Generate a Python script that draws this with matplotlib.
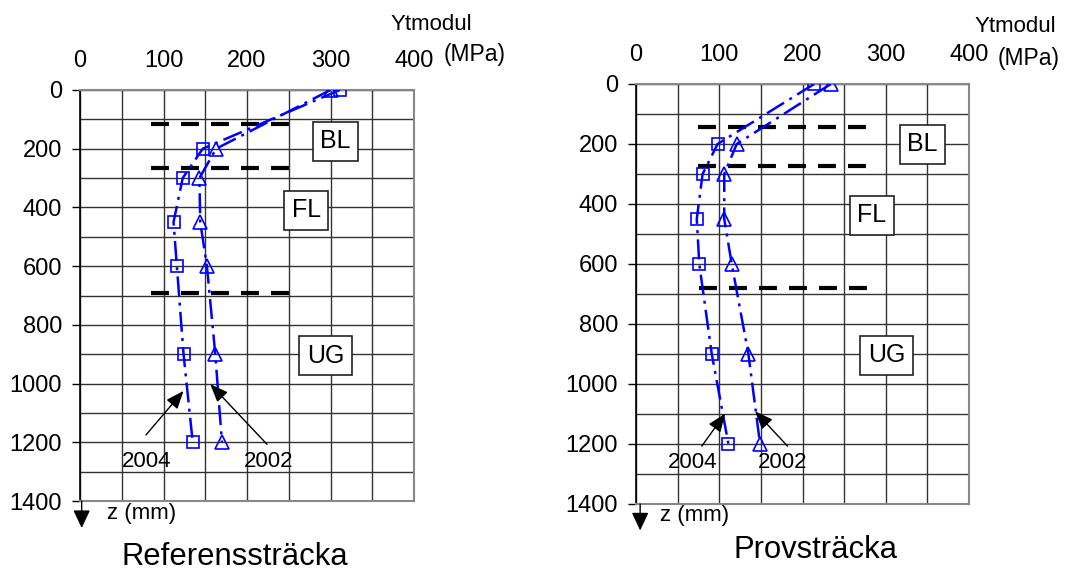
import numpy as np
import matplotlib
matplotlib.use("Agg")
from matplotlib import pyplot as plt
from matplotlib.ticker import MultipleLocator

plt.rcParams['font.family'] = ['Liberation Sans', 'DejaVu Sans']

depth = [0, 200, 300, 450, 600, 900, 1200]  # z (mm)

# Referenssträcka, Ytmodul (MPa)
ref_2004 = [311, 147, 123, 112, 116, 124, 135]
ref_2002 = [300, 163, 143, 144, 152, 162, 170]
ref_layers = [115, 265, 690]  # layer boundaries (mm)

# Provsträcka
prov_2004 = [214, 98, 80, 73, 76, 91, 111]
prov_2002 = [234, 121, 106, 106, 115, 135, 149]
prov_layers = [142, 274, 681]

layer_names = ["BL", "FL", "UG"]
xticks = [0, 100, 200, 300, 400]
yticks = [0, 200, 400, 600, 800, 1000, 1200, 1400]

W, H = 1082, 570
fig = plt.figure(figsize=(W / 100, H / 100), dpi=100)

blue = "#0000ff"
dash = (0, (8, 2.5, 1.2, 2.5))


def setup(ax):
    ax.set_xlim(0, 400)
    ax.set_ylim(1400, 0)
    ax.xaxis.tick_top()
    ax.set_xticks(xticks)
    ax.set_yticks(yticks)
    ax.xaxis.set_minor_locator(MultipleLocator(50))
    ax.yaxis.set_minor_locator(MultipleLocator(100))
    ax.grid(True, which="both", color="#333333", lw=1)
    ax.set_axisbelow(True)
    ax.tick_params(axis="x", which="both", length=0, pad=13, labelsize=17)
    ax.tick_params(axis="y", which="major", length=6, width=1, direction="out",
                   pad=7, labelsize=17)
    ax.tick_params(axis="y", which="minor", length=0)
    for s in ["top", "right", "bottom"]:
        ax.spines[s].set_color("#888888")
        ax.spines[s].set_linewidth(1.5)
    ax.spines["left"].set_color("black")
    ax.spines["left"].set_linewidth(1.2)


def draw(ax, v2004, v2002, layers, extents, boxes, arrows):
    setup(ax)
    ax.plot(v2004, depth, color=blue, lw=1.8, ls=dash, marker="s", ms=8,
            mfc="none", mec=blue, mew=1.2, zorder=3)
    ax.plot(v2002, depth, color=blue, lw=1.8, ls=dash, marker="^", ms=10.5,
            mfc="none", mec=blue, mew=1.2, zorder=3)
    for zl, (x0, x1) in zip(layers, extents):
        ax.hlines(zl, x0, x1, colors="black", lw=3, linestyles=(0, (4.3, 2.9)),
                  zorder=2)
    for name, (bx, bz) in zip(layer_names, boxes):
        ax.text(bx, bz, name, fontsize=18, ha="center", va="center", zorder=4,
                bbox=dict(boxstyle="square,pad=0.3", fc="white", ec="#222222",
                          lw=1.2))
    for label, head, tail, tpos in arrows:
        ax.annotate("", xy=head, xytext=tail, annotation_clip=False,
                    arrowprops=dict(arrowstyle="-|>,head_length=0.55,head_width=0.22",
                                    color="black", lw=1, mutation_scale=20,
                                    shrinkA=0, shrinkB=0))
        ax.text(tpos[0], tpos[1], label, fontsize=16, ha="center", va="center")


def z_arrow(ax, x, zend, tx, tz):
    ax.annotate("", xy=(x, zend), xytext=(x, 1400), annotation_clip=False,
                arrowprops=dict(arrowstyle="-|>,head_length=0.55,head_width=0.26",
                                color="black", lw=1, mutation_scale=20,
                                shrinkA=0, shrinkB=0))
    ax.text(tx, tz, "z (mm)", fontsize=16, ha="left", va="center")


ax1 = fig.add_axes([80 / W, 1 - 501 / H, 334 / W, 411 / H])
draw(ax1, ref_2004, ref_2002, ref_layers, [(85, 250)] * 3,
     [(306, 174), (271, 409), (294, 905)],
     [("2004", (124, 1025), (79, 1175), (80, 1264)),
      ("2002", (156, 1002), (224, 1207), (226, 1264))])
z_arrow(ax1, 2, 1492, 32, 1441)

ax2 = fig.add_axes([636 / W, 1 - 504 / H, 333 / W, 420 / H])
draw(ax2, prov_2004, prov_2002, prov_layers, [(74, 285), (74, 285), (76, 278)],
     [(344, 201), (283, 437), (301, 905)],
     [("2004", (107, 1099), (79, 1207), (68, 1260)),
      ("2002", (143, 1091), (182, 1207), (176, 1260))])
z_arrow(ax2, 5, 1488, 29, 1440)

# axis title text and panel names
fig.text(390.7 / W, 1 - 25 / H, "Ytmodul", fontsize=16, ha="left", va="center")
fig.text(443.3 / W, 1 - 55 / H, "(MPa)", fontsize=16.5, ha="left", va="center")
fig.text(975 / W, 1 - 27 / H, "Ytmodul", fontsize=16, ha="left", va="center")
fig.text(997.3 / W, 1 - 58 / H, "(MPa)", fontsize=16.5, ha="left", va="center")

fig.text(235.3 / W, 1 - 556.7 / H, "Referenssträcka", fontsize=22.3, ha="center",
         va="center")
fig.text(815 / W, 1 - 550 / H, "Provsträcka", fontsize=22.3, ha="center", va="center")

fig.savefig("out.png", dpi=100)
